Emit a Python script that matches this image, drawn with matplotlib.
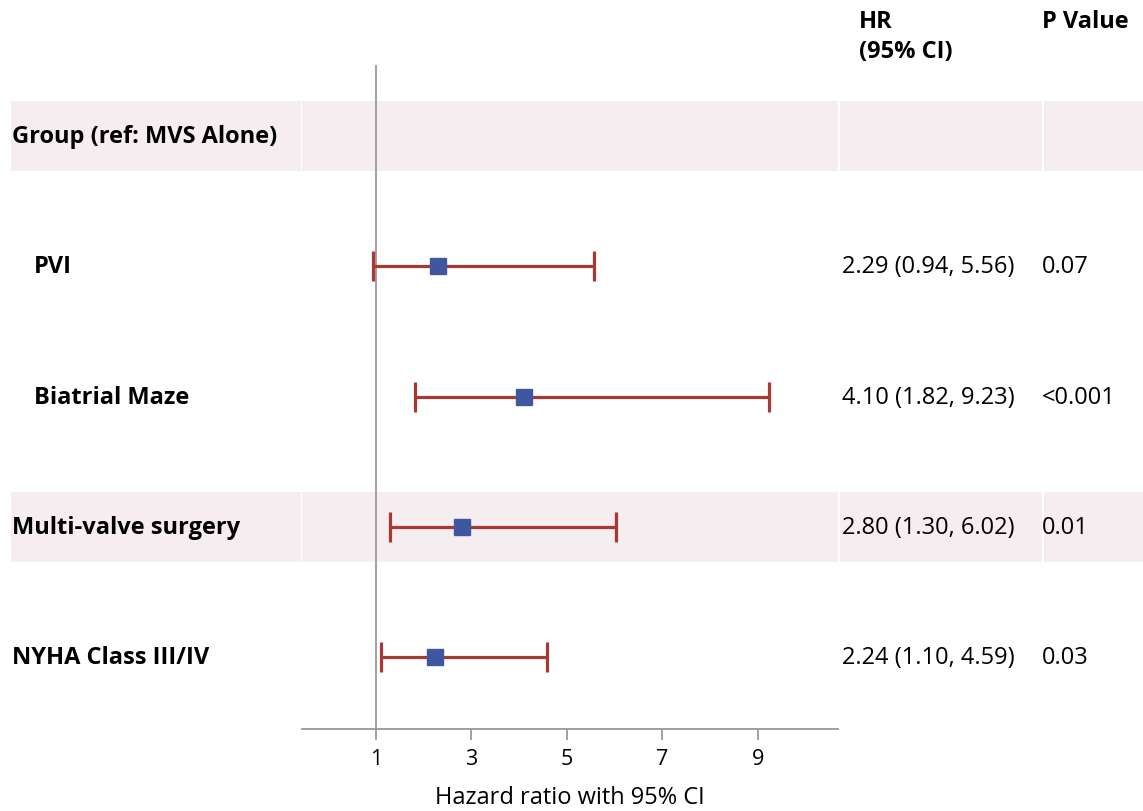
import matplotlib
matplotlib.use("Agg")
import matplotlib.pyplot as plt
from matplotlib.transforms import blended_transform_factory

plt.rcParams['font.family'] = ['Open Sans', 'DejaVu Sans']

labels = ["Group (ref: MVS Alone)", "PVI", "Biatrial Maze", "Multi-valve surgery", "NYHA Class III/IV"]
indent = [False, True, True, False, False]
hr = [None, 2.29, 4.10, 2.80, 2.24]
lo = [None, 0.94, 1.82, 1.30, 1.10]
hi = [None, 5.56, 9.23, 6.02, 4.59]
hr_text = ["", "2.29 (0.94, 5.56)", "4.10 (1.82, 9.23)", "2.80 (1.30, 6.02)", "2.24 (1.10, 4.59)"]
p_text = ["", "0.07", "<0.001", "0.01", "0.03"]
shaded = [True, False, False, True, False]
xticks = [1, 3, 5, 7, 9]

W, H = 1143, 812
fig = plt.figure(figsize=(W / 100, H / 100), dpi=100)

def ax_px(x0, x1, y0, y1):
    return fig.add_axes([x0 / W, 1 - y1 / H, (x1 - x0) / W, (y1 - y0) / H])

ytop, ybot = 66, 730
row0, step = 137, 130.3
ylim = ((ybot - row0) / step, (ytop - row0) / step)

ax_lab = ax_px(11, 301, ytop, ybot)
ax = ax_px(302, 838, ytop, ybot)
ax_hr = ax_px(840, 1042, ytop, ybot)
ax_p = ax_px(1044, 1143, ytop, ybot)

band_col = "#F5EDF0"
half = 35 / step
for a in (ax_lab, ax, ax_hr, ax_p):
    a.set_ylim(*ylim)
    for i, s in enumerate(shaded):
        if s:
            a.axhspan(i - half, i + half, color=band_col, lw=0, zorder=0)

for a in (ax_lab, ax_hr, ax_p):
    a.set_xlim(0, 1)
    a.axis("off")

FS = 17
# labels
for i, (t, ind) in enumerate(zip(labels, indent)):
    tr = blended_transform_factory(fig.transFigure, ax_lab.transData)
    x = (34 if ind else 12) / W
    ax_lab.text(x, i, t, transform=tr, ha="left", va="center",
                fontsize=FS, fontweight="bold", color="black")

for i in range(len(labels)):
    tr = blended_transform_factory(fig.transFigure, ax_hr.transData)
    ax_hr.text(842 / W, i, hr_text[i], transform=tr, ha="left", va="center",
               fontsize=FS, color="black")
    ax_p.text(1042 / W, i, p_text[i], transform=tr, ha="left", va="center",
              fontsize=FS, color="black")

fig.text(859 / W, 1 - 22 / H, "HR", ha="left", va="center",
         fontsize=FS, fontweight="bold")
fig.text(859 / W, 1 - 52 / H, "(95% CI)", ha="left", va="center",
         fontsize=FS, fontweight="bold")
fig.text(1042 / W, 1 - 22 / H, "P Value", ha="left", va="center",
         fontsize=FS, fontweight="bold")

# forest plot
ax.set_xlim(-0.55, 10.68)
ax.axvline(1, color="#999999", lw=1.3, zorder=1)
for i in range(len(labels)):
    if hr[i] is None:
        continue
    ax.errorbar(hr[i], i, xerr=[[hr[i] - lo[i]], [hi[i] - hr[i]]], fmt="none",
                ecolor="#A63A32", elinewidth=2.3, capsize=11, capthick=2.3, zorder=2)
    ax.plot(hr[i], i, marker="s", ms=11, color="#3F57A0", ls="none", zorder=3)

for s in ("top", "left", "right"):
    ax.spines[s].set_visible(False)
ax.spines["bottom"].set_color("#999999")
ax.spines["bottom"].set_linewidth(1.3)
ax.set_facecolor("none")
ax.set_yticks([])
ax.set_xticks(xticks)
ax.set_xticklabels([str(t) for t in xticks])
ax.tick_params(axis="x", length=8, width=1.3, color="#999999", labelsize=15.5, pad=6)
ax.set_xlabel("Hazard ratio with 95% CI", fontsize=FS, labelpad=11)

fig.savefig("out.png", dpi=100)
